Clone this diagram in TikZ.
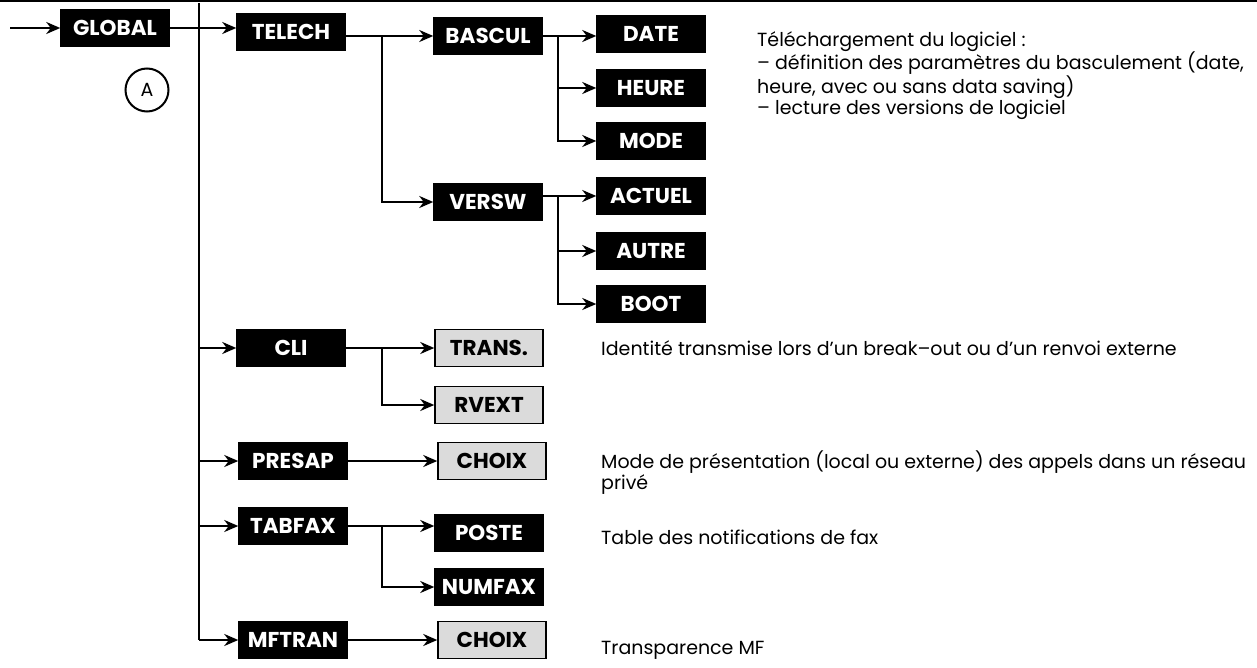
\documentclass[tikz,border=0pt]{standalone}
\usepackage{fontspec}
\setmainfont{Poppins}
\usetikzlibrary{arrows.meta}
\begin{document}
\begin{tikzpicture}[x=1pt,y=-1pt,
  bx/.style={draw=black,line width=1.5pt,fill=black,text=white,minimum width=108pt,minimum height=37pt,inner sep=0pt,font=\fontsize{21.5}{21.5}\selectfont\bfseries},
  gb/.style={bx,fill=black!14,text=black},
  ln/.style={line width=2.6pt},
  ar/.style={ln,-{Stealth[length=14pt,width=12pt]}},
  ds/.style={anchor=west,align=left,inner sep=0pt,font=\fontsize{19}{16}\selectfont}]
\useasboundingbox (0,0) rectangle (1257,668);
\draw[line width=2pt] (0,1) -- (1257,1);
\node[bx] (global) at (115,28) {GLOBAL};
\node[draw,circle,line width=2pt,minimum size=43pt,inner sep=0pt,font=\fontsize{19}{19}\selectfont] (a) at (147,90) {A};
\coordinate (in) at (10,28);
\coordinate (ttop) at (199,3);
\coordinate (tbot) at (199,640);
\draw[ln] (ttop) -- (tbot);
\node[bx] (telech) at (291,32) {TELECH};
\node[bx] (bascul) at (488,36) {BASCUL};
\node[bx] (date) at (651,34) {DATE};
\node[bx] (heure) at (651,88) {HEURE};
\node[bx] (mode) at (651,141) {MODE};
\node[bx] (versw) at (488,202) {VERSW};
\node[bx] (actuel) at (651,196) {ACTUEL};
\node[bx] (autre) at (651,251) {AUTRE};
\node[bx] (boot) at (651,304) {BOOT};
\node[bx] (cli) at (291,348) {CLI};
\node[gb] (trans) at (489,348) {TRANS.};
\node[gb] (rvext) at (489,405) {RVEXT};
\node[bx] (presap) at (293,461) {PRESAP};
\node[gb] (choixa) at (492,461) {CHOIX};
\node[bx] (tabfax) at (293,526) {TABFAX};
\node[bx] (poste) at (489,533) {POSTE};
\node[bx] (numfax) at (489,587) {NUMFAX};
\node[bx] (mftran) at (293,640) {MFTRAN};
\node[gb] (choixb) at (492,640) {CHOIX};
% connectors
\draw[ar] (in) -- (global.west);
\draw[ar] (global.east) -- (global.east -| telech.west);
\draw[ar] (telech.east |- bascul) -- (bascul.west);
\draw[ar] (382,36) |- (versw.west);
\draw[ar] (bascul.east) -- (bascul.east -| date.west);
\draw[ar] (558,36) |- (heure.west);
\draw[ar] (558,36) |- (mode.west);
\draw[ar] (versw.east |- actuel) -- (actuel.west);
\draw[ar] (558,196) |- (autre.west);
\draw[ar] (558,196) |- (boot.west);
\draw[ar] (199,348) -- (cli.west);
\draw[ar] (199,461) -- (presap.west);
\draw[ar] (199,526) -- (tabfax.west);
\draw[ar] (tbot) -- (mftran.west);
\draw[ar] (cli.east) -- (cli.east -| trans.west);
\draw[ar] (382,348) |- (rvext.west);
\draw[ar] (presap.east) -- (choixa.west);
\draw[ar] (tabfax.east) -- (tabfax.east -| poste.west);
\draw[ar] (382,526) |- (numfax.west);
\draw[ar] (mftran.east) -- (choixb.west);
% descriptions
\node[ds,anchor=north west] (d1) at (757,31) {Téléchargement du logiciel :\\
– définition des paramètres du basculement (date,\\
heure, avec ou sans data saving)\\
– lecture des versions de logiciel};
\node[ds] (d2) at (601,348) {Identité transmise lors d’un break–out ou d’un renvoi externe};
\node[ds,anchor=north west] (d3) at (601,451) {Mode de présentation (local ou externe) des appels dans un réseau\\privé};
\node[ds] (d4) at (601,537) {Table des notifications de fax};
\node[ds] (d5) at (601,650) {Transparence MF};
\end{tikzpicture}
\end{document}
